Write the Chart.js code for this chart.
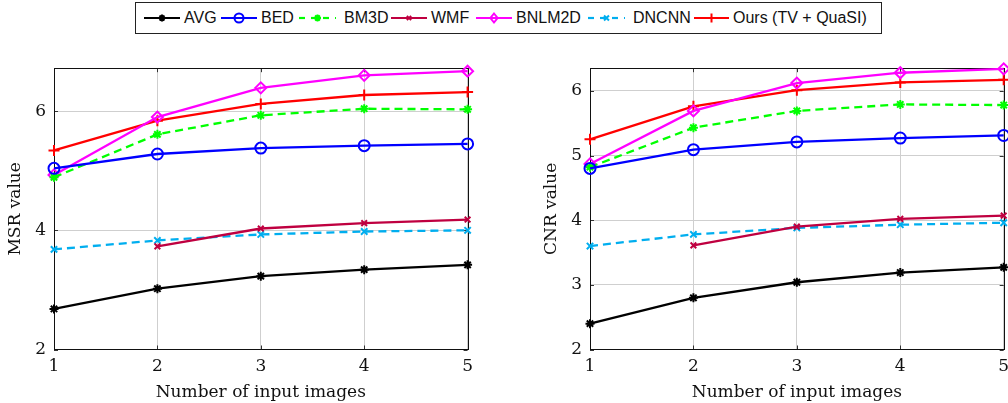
<!DOCTYPE html>
<html>
<head>
<meta charset="utf-8">
<script src="https://cdn.jsdelivr.net/npm/chart.js@4.4.1/dist/chart.umd.min.js"></script>
<style>
  html, body { margin: 0; padding: 0; background: #fff; overflow: hidden; width: 1008px; height: 403px; position: relative; }
  #legend {
    position: absolute; left: 135px; top: 2px; width: 747px; height: 32px;
    border: 1px solid #222; box-sizing: border-box;
    font-family: "Liberation Sans", Arial, sans-serif; font-size: 16px; color: #111;
  }
  .item { position: absolute; top: 6px; height: 18px; display: flex; align-items: center; white-space: nowrap; }
  .item canvas { margin-right: 4px; }
  #wrapL { position: absolute; left: 0; top: 50px; width: 480px; height: 353px; }
  #wrapR { position: absolute; left: 530px; top: 50px; width: 490px; height: 353px; }
</style>
</head>
<body>
<div id="legend"></div>
<div id="wrapL"><canvas id="msr"></canvas></div>
<div id="wrapR"><canvas id="cnr"></canvas></div>
<script>
// x axis: number of input images
const xLabels = ['1', '2', '3', '4', '5'];
const seriesNames = ['AVG', 'BED', 'BM3D', 'WMF', 'BNLM2D', 'DNCNN', 'Ours (TV + QuaSI)'];

// MSR values (left panel)
const msrAVG    = [2.68, 3.02, 3.23, 3.34, 3.42];
const msrBED    = [5.04, 5.28, 5.38, 5.42, 5.45];
const msrBM3D   = [4.89, 5.61, 5.93, 6.04, 6.03];
const msrWMF    = [null, 3.73, 4.03, 4.12, 4.18];
const msrBNLM2D = [4.93, 5.90, 6.39, 6.60, 6.67];
const msrDNCNN  = [3.68, 3.83, 3.93, 3.98, 4.00];
const msrOurs   = [5.34, 5.84, 6.12, 6.27, 6.32];

// CNR values (right panel)
const cnrAVG    = [2.40, 2.80, 3.04, 3.19, 3.27];
const cnrBED    = [4.80, 5.09, 5.21, 5.27, 5.31];
const cnrBM3D   = [4.82, 5.43, 5.69, 5.79, 5.78];
const cnrWMF    = [null, 3.61, 3.90, 4.02, 4.07];
const cnrBNLM2D = [4.87, 5.69, 6.12, 6.28, 6.34];
const cnrDNCNN  = [3.60, 3.78, 3.88, 3.93, 3.96];
const cnrOurs   = [5.25, 5.76, 6.01, 6.13, 6.17];

// look of each series, same order as seriesNames
const styles = [
  { color: '#000000', mark: 'star',     r: 4.5, dash: [] },
  { color: '#0000ff', mark: 'circle',   r: 5.5, dash: [] },
  { color: '#00ff00', mark: 'star',     r: 4.5, dash: [8, 5] },
  { color: '#bf0040', mark: 'crossRot', r: 4,   dash: [] },
  { color: '#ff00ff', mark: 'rectRot',  r: 5.5, dash: [] },
  { color: '#00aeef', mark: 'crossRot', r: 4.5, dash: [8, 5] },
  { color: '#ff0000', mark: 'cross',    r: 5.5, dash: [] }
];

// legend item left edges inside the box, and sample widths
const legendLeft = [8, 85, 163, 255, 340, 452, 558];
const legendSample = [36, 36, 37, 36, 36, 37, 35];

const serif = '"DejaVu Serif", "Liberation Serif", serif';

// own marker drawing for the html legend samples
function drawMark(ctx, mark, x, y, r, color) {
  ctx.save();
  ctx.strokeStyle = color;
  ctx.lineWidth = 2;
  ctx.setLineDash([]);
  ctx.beginPath();
  if (mark === 'circle') {
    ctx.arc(x, y, r, 0, Math.PI * 2);
  } else if (mark === 'rectRot') {
    ctx.moveTo(x, y - r); ctx.lineTo(x + r * 0.8, y); ctx.lineTo(x, y + r); ctx.lineTo(x - r * 0.8, y); ctx.closePath();
  } else {
    const angles = mark === 'cross' ? [0, 90] : mark === 'crossRot' ? [45, 135] : [0, 45, 90, 135];
    angles.forEach(a => {
      const dx = Math.cos(a * Math.PI / 180) * r, dy = Math.sin(a * Math.PI / 180) * r;
      ctx.moveTo(x - dx, y - dy); ctx.lineTo(x + dx, y + dy);
    });
  }
  ctx.stroke();
  ctx.restore();
}

function buildLegend() {
  const box = document.getElementById('legend');
  seriesNames.forEach((name, i) => {
    const s = styles[i];
    const w = legendSample[i];
    const item = document.createElement('div');
    item.className = 'item';
    item.style.left = legendLeft[i] + 'px';
    const c = document.createElement('canvas');
    c.width = w; c.height = 16;
    const ctx = c.getContext('2d');
    ctx.strokeStyle = s.color; ctx.lineWidth = 2.2; ctx.setLineDash(s.dash.length ? [6, 6] : []);
    ctx.beginPath(); ctx.moveTo(0, 8); ctx.lineTo(w, 8); ctx.stroke();
    drawMark(ctx, s.mark, w / 2, 8, s.r - 1, s.color);
    const t = document.createElement('span');
    t.textContent = name;
    if (s.dash.length) t.style.marginLeft = '4px';
    item.appendChild(c); item.appendChild(t);
    box.appendChild(item);
  });
}

// black frame and inward tick marks, like pgfplots
const frame = {
  id: 'frame',
  beforeDatasetsDraw(chart) {
    const { ctx, chartArea: a, scales } = chart;
    ctx.save();
    ctx.strokeStyle = '#333';
    ctx.lineWidth = 1;
    scales.x.ticks.forEach((t, i) => {
      const px = Math.round(scales.x.getPixelForTick(i)) + 0.5;
      ctx.beginPath();
      ctx.moveTo(px, a.bottom); ctx.lineTo(px, a.bottom - 4);
      ctx.moveTo(px, a.top); ctx.lineTo(px, a.top + 4);
      ctx.stroke();
    });
    scales.y.ticks.forEach(t => {
      const py = Math.round(scales.y.getPixelForValue(t.value)) + 0.5;
      ctx.beginPath();
      ctx.moveTo(a.left, py); ctx.lineTo(a.left + 4, py);
      ctx.moveTo(a.right, py); ctx.lineTo(a.right - 4, py);
      ctx.stroke();
    });
    ctx.strokeStyle = '#111';
    ctx.strokeRect(Math.round(a.left) + 0.5, Math.round(a.top) + 0.5,
                   Math.round(a.right - a.left), Math.round(a.bottom - a.top));
    ctx.restore();
  }
};

function makeDatasets(values) {
  return values.map((v, i) => {
    const s = styles[i];
    return {
      label: seriesNames[i],
      data: v,
      borderColor: s.color,
      backgroundColor: 'transparent',
      borderWidth: 2.3,
      borderDash: s.dash,
      pointStyle: s.mark,
      pointRadius: s.r,
      pointHoverRadius: s.r,
      pointBorderWidth: 2,
      pointBorderColor: s.color,
      pointBackgroundColor: 'transparent',
      tension: 0,
      spanGaps: false,
      clip: false
    };
  });
}

function makeChart(id, values, yMin, yMax, yStep, yTitle, axisW, titlePad, padding) {
  return new Chart(document.getElementById(id), {
    type: 'line',
    data: { labels: xLabels, datasets: makeDatasets(values) },
    options: {
      responsive: true,
      maintainAspectRatio: false,
      animation: false,
      layout: { padding },
      plugins: { legend: { display: false }, tooltip: { enabled: false } },
      scales: {
        x: {
          offset: false,
          grid: { color: '#cfcfcf', lineWidth: 1, drawTicks: false },
          border: { display: false },
          ticks: { color: '#111', font: { family: serif, size: 17 }, padding: 7, maxRotation: 0 },
          title: { display: true, text: 'Number of input images', color: '#111',
                   font: { family: serif, size: 17 }, padding: { top: 0, bottom: 0 } },
          afterFit(scale) { scale.height = 53.5; }
        },
        y: {
          min: yMin, max: yMax,
          grid: { color: '#cfcfcf', lineWidth: 1, drawTicks: false },
          border: { display: false },
          ticks: { stepSize: yStep, includeBounds: false, color: '#111',
                   font: { family: serif, size: 17 }, padding: 8 },
          title: { display: true, text: yTitle, color: '#111',
                   font: { family: serif, size: 17 }, padding: { top: titlePad, bottom: 0 } },
          afterFit(scale) { scale.width = axisW; }
        }
      }
    },
    plugins: [frame]
  });
}

buildLegend();

makeChart('msr',
  [msrAVG, msrBED, msrBM3D, msrWMF, msrBNLM2D, msrDNCNN, msrOurs],
  2, 6.72, 2, 'MSR value', 54, 5, { top: 16, right: 12, left: 0, bottom: 0 });

makeChart('cnr',
  [cnrAVG, cnrBED, cnrBM3D, cnrWMF, cnrBNLM2D, cnrDNCNN, cnrOurs],
  2, 6.35, 1, 'CNR value', 60, 11, { top: 16.5, right: 16.3, left: 0, bottom: 0 });
</script>
</body>
</html>
